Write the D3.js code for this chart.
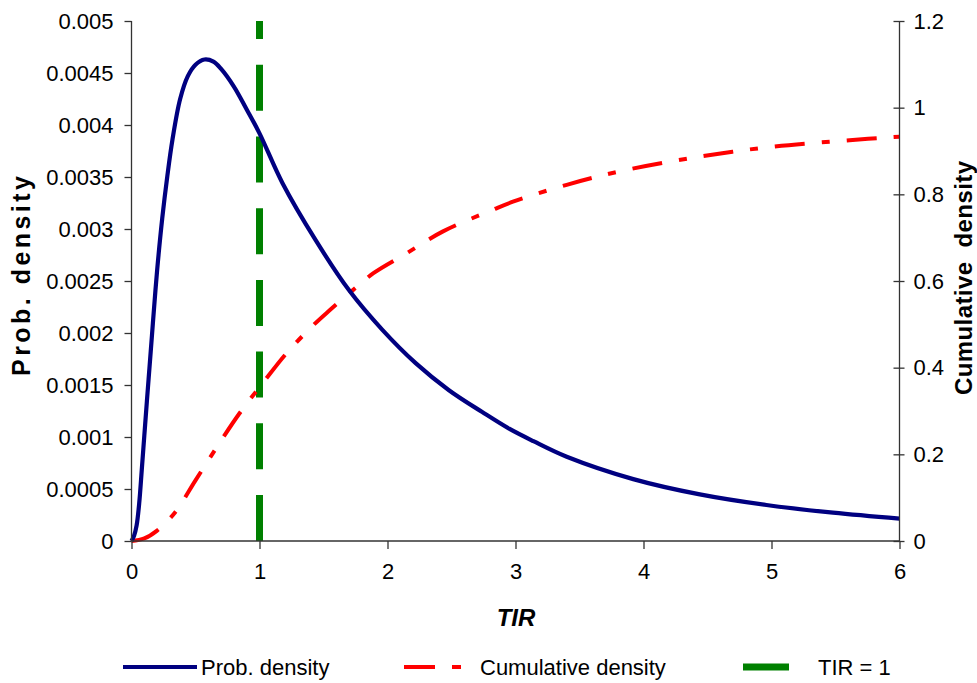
<!DOCTYPE html>
<html>
<head>
<meta charset="utf-8">
<script src="https://cdn.jsdelivr.net/npm/d3@7"></script>
<style>
  html, body { margin: 0; padding: 0; background: #fff; }
  svg { display: block; font-family: "Liberation Sans", Arial, sans-serif; }
</style>
</head>
<body>
<svg id="chart" width="977" height="683"></svg>
<script>
// ---- data ----
const pdfX = [0, 0.02, 0.04, 0.06, 0.08, 0.1, 0.12, 0.14, 0.16, 0.18, 0.2, 0.24, 0.28, 0.32, 0.38, 0.44, 0.5, 0.57, 0.64, 0.7, 0.8, 0.9, 1.0, 1.18, 1.44, 1.7, 1.96, 2.22, 2.48, 2.74, 2.95, 3.14, 3.4, 3.92, 4.44, 4.96, 5.48, 6.0];
const pdfY = [0, 0.00005, 0.00015, 0.00036, 0.00068, 0.00101, 0.00134, 0.00166, 0.00198, 0.00230, 0.00260, 0.00310, 0.00351, 0.00386, 0.00425, 0.00447, 0.00458, 0.00463, 0.00461, 0.00454, 0.00437, 0.00415, 0.00392, 0.00344, 0.00289, 0.00241, 0.00203, 0.00171, 0.00145, 0.00124, 0.00108, 0.00096, 0.00081, 0.000595, 0.000448, 0.000346, 0.000272, 0.000215];

const cdfX = [0, 0.1, 0.2, 0.34, 0.5, 0.67, 0.84, 1.04, 1.21, 1.42, 1.55, 1.73, 1.89, 2.15, 2.43, 2.82, 2.98, 3.4, 3.86, 4.44, 5.01, 5.61, 6.0];
const cdfY = [0, 0.006, 0.024, 0.066, 0.140, 0.218, 0.293, 0.370, 0.433, 0.498, 0.533, 0.579, 0.618, 0.664, 0.714, 0.764, 0.783, 0.822, 0.856, 0.887, 0.910, 0.925, 0.933];

const tirX = [1, 1];
const tirY = [0, 0.005];

const xTicks = [0, 1, 2, 3, 4, 5, 6];
const leftTicks = [0, 0.0005, 0.001, 0.0015, 0.002, 0.0025, 0.003, 0.0035, 0.004, 0.0045, 0.005];
const leftTickLabels = ["0", "0.0005", "0.001", "0.0015", "0.002", "0.0025", "0.003", "0.0035", "0.004", "0.0045", "0.005"];
const rightTicks = [0, 0.2, 0.4, 0.6, 0.8, 1, 1.2];
const rightTickLabels = ["0", "0.2", "0.4", "0.6", "0.8", "1", "1.2"];

const seriesNames = ["Prob. density", "Cumulative density", "TIR = 1"];
const colors = ["#000080", "#FF0000", "#008000"];

// ---- layout ----
const svg = d3.select("#chart");
const L = 131.5, R = 899.5, T = 21, B = 541;

const x = d3.scaleLinear().domain([0, 6]).range([L, R]);
const yL = d3.scaleLinear().domain([0, 0.005]).range([B, T]);
const yR = d3.scaleLinear().domain([0, 1.2]).range([B, T]);

const axisColor = "#333";
const fontSize = 22;

const pdfData = pdfX.map((v, i) => [v, pdfY[i]]);
const cdfData = cdfX.map((v, i) => [v, cdfY[i]]);
const tirData = tirX.map((v, i) => [v, tirY[i]]);

// TIR line (drawn from bottom up)
svg.append("path")
  .attr("d", d3.line().x(d => x(d[0])).y(d => yL(d[1]))(tirData))
  .attr("fill", "none")
  .attr("stroke", colors[2])
  .attr("stroke-width", 7)
  .attr("stroke-dasharray", "46,25.7");

// CDF
svg.append("path")
  .attr("d", d3.line().curve(d3.curveCatmullRom.alpha(0.5)).x(d => x(d[0])).y(d => yR(d[1]))(cdfData))
  .attr("fill", "none")
  .attr("stroke", colors[1])
  .attr("stroke-width", 4)
  .attr("stroke-dasharray", "30,17,8,17");

// PDF
svg.append("path")
  .attr("d", d3.line().curve(d3.curveCatmullRom.alpha(0.5)).x(d => x(d[0])).y(d => yL(d[1]))(pdfData))
  .attr("fill", "none")
  .attr("stroke", colors[0])
  .attr("stroke-width", 4.2)
  .attr("stroke-linejoin", "round");

// axes
const gx = svg.append("g").attr("transform", `translate(0,${B})`)
  .call(d3.axisBottom(x).tickValues(xTicks).tickFormat(d3.format("d")).tickSize(8).tickPadding(14));
const gl = svg.append("g").attr("transform", `translate(${L},0)`)
  .call(d3.axisLeft(yL).tickValues(leftTicks).tickFormat((d, i) => leftTickLabels[i]).tickSize(7).tickPadding(11));
const gr = svg.append("g").attr("transform", `translate(${R},0)`)
  .call(d3.axisRight(yR).tickValues(rightTicks).tickFormat((d, i) => rightTickLabels[i]).tickSize(5).tickPadding(9));
gr.selectAll(".tick line").attr("x1", -6).attr("x2", 5);

[gx, gl, gr].forEach(g => {
  g.select(".domain").attr("stroke", axisColor).attr("stroke-width", 1.3);
  g.selectAll(".tick line").attr("stroke", axisColor).attr("stroke-width", 1.3);
  g.selectAll(".tick text").attr("fill", "#000").style("font-size", fontSize + "px")
    .style("font-family", "'Liberation Sans', Arial, sans-serif");
});
gx.select(".domain").attr("d", `M${L},0H${R}`);
gl.select(".domain").attr("d", `M0,${B}V${T}`);
gr.select(".domain").attr("d", `M0,${B}V${T}`);

// axis titles
svg.append("text")
  .attr("x", 516).attr("y", 626)
  .attr("text-anchor", "middle")
  .style("font-size", "24px").style("font-weight", "bold").style("font-style", "italic")
  .text("TIR");

svg.append("text")
  .attr("transform", `translate(30,276) rotate(-90)`)
  .attr("text-anchor", "middle")
  .attr("textLength", 200)
  .attr("lengthAdjust", "spacing")
  .style("font-size", "25px").style("font-weight", "bold")
  .text("Prob. density");

svg.append("text")
  .attr("transform", `translate(972,278) rotate(-90)`)
  .attr("text-anchor", "middle")
  .attr("textLength", 234)
  .attr("lengthAdjust", "spacing")
  .attr("xml:space", "preserve")
  .style("white-space", "pre")
  .style("font-size", "24px").style("font-weight", "bold")
  .text("Cumulative  density");

// legend
const ly = 667;
const lg = svg.append("g");
lg.append("line").attr("x1", 123).attr("x2", 197).attr("y1", ly).attr("y2", ly)
  .attr("stroke", colors[0]).attr("stroke-width", 4);
lg.append("text").attr("x", 201).attr("y", ly + 8).style("font-size", fontSize + "px").text(seriesNames[0]);

lg.append("line").attr("x1", 404).attr("x2", 461).attr("y1", ly).attr("y2", ly)
  .attr("stroke", colors[1]).attr("stroke-width", 4).attr("stroke-dasharray", "31,17,9,17");
lg.append("text").attr("x", 480).attr("y", ly + 8).style("font-size", fontSize + "px").text(seriesNames[1]);

lg.append("line").attr("x1", 743).attr("x2", 789).attr("y1", ly).attr("y2", ly)
  .attr("stroke", colors[2]).attr("stroke-width", 7);
lg.append("text").attr("x", 818).attr("y", ly + 8).style("font-size", fontSize + "px").text(seriesNames[2]);
</script>
</body>
</html>
